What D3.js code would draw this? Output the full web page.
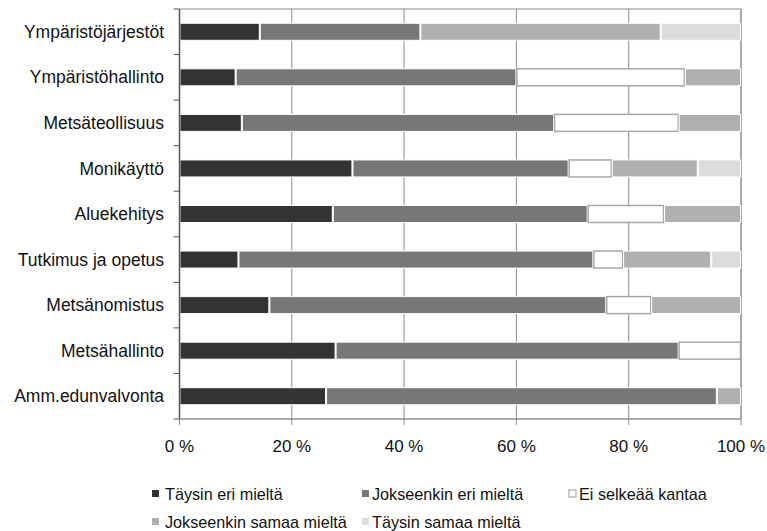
<!DOCTYPE html>
<html><head><meta charset="utf-8">
<script src="https://cdn.jsdelivr.net/npm/d3@7"></script>
<style>body{margin:0;background:#fff;} text{font-family:"Liberation Sans",Arial,sans-serif;}</style>
</head><body>
<svg id="c" width="767" height="531"></svg>
<script>
const categories = ["Ympäristöjärjestöt","Ympäristöhallinto","Metsäteollisuus","Monikäyttö","Aluekehitys","Tutkimus ja opetus","Metsänomistus","Metsähallinto","Amm.edunvalvonta"];
const seriesNames = ["Täysin eri mieltä","Jokseenkin eri mieltä","Ei selkeää kantaa","Jokseenkin samaa mieltä","Täysin samaa mieltä"];
const taysinEri      = [14.3, 10.0, 11.1, 30.8, 27.3, 10.5, 16.0, 27.8, 26.1];
const jokseenkinEri  = [28.6, 50.0, 55.6, 38.5, 45.4, 63.2, 60.0, 61.1, 69.6];
const eiKantaa       = [0.0, 30.0, 22.2, 7.7, 13.6, 5.3, 8.0, 11.1, 0.0];
const jokseenkinSama = [42.8, 10.0, 11.1, 15.3, 13.7, 15.7, 16.0, 0.0, 4.3];
const taysinSama     = [14.3, 0.0, 0.0, 7.7, 0.0, 5.3, 0.0, 0.0, 0.0];
const tickValues = [0, 20, 40, 60, 80, 100];
const tickLabels = ["0 %","20 %","40 %","60 %","80 %","100 %"];

const fills = ["#333333","#777777","#ffffff","#b0b0b0","#dcdcdc"];
const strokes = ["#ffffff","#ffffff","#a8a8a8","#ffffff","#ffffff"];

const seriesVals = [taysinEri, jokseenkinEri, eiKantaa, jokseenkinSama, taysinSama];
const rows = categories.map((c,i)=>{const o={cat:c}; seriesNames.forEach((s,j)=>o[s]=seriesVals[j][i]); return o;});
const stacked = d3.stack().keys(seriesNames)(rows);

const svg = d3.select("#c");
const L=179.5, R=741, T=9, B=419;
const x = d3.scaleLinear().domain([0,100]).range([L,R]);
const y = d3.scaleBand().domain(categories).range([T,B]);
const bh = 17;

// grid
svg.append("g").selectAll("line").data([20,40,60,80]).join("line")
  .attr("x1",d=>x(d)).attr("x2",d=>x(d)).attr("y1",T).attr("y2",B)
  .attr("stroke","#8c8c8c").attr("stroke-width",1);
// top and right border
svg.append("line").attr("x1",L).attr("x2",R).attr("y1",T).attr("y2",T).attr("stroke","#8c8c8c").attr("stroke-width",1.2);
svg.append("line").attr("x1",R).attr("x2",R).attr("y1",T).attr("y2",B).attr("stroke","#8c8c8c").attr("stroke-width",1.5);

// bars
stacked.forEach((s,j)=>{
  svg.append("g").selectAll("rect").data(s.filter(d=>d[1]-d[0]>0)).join("rect")
    .attr("x",d=>x(d[0])+0.5).attr("width",d=>x(d[1])-x(d[0])-1)
    .attr("y",d=>y(d.data.cat)+y.bandwidth()/2-bh/2).attr("height",bh)
    .attr("fill",fills[j]).attr("stroke",strokes[j]).attr("stroke-width",j===2?1.5:1);
});

// left axis
const ya = svg.append("g");
ya.append("line").attr("x1",L).attr("x2",L).attr("y1",T).attr("y2",B).attr("stroke","#555").attr("stroke-width",1.5);
const bounds = categories.map(c=>y(c)).concat([B]);
ya.selectAll("line.t").data(bounds).join("line").attr("class","t")
  .attr("x1",L-6).attr("x2",L).attr("y1",d=>d).attr("y2",d=>d).attr("stroke","#555").attr("stroke-width",1);
ya.selectAll("text").data(categories).join("text")
  .attr("x",164).attr("y",d=>y(d)+y.bandwidth()/2).attr("dy","0.35em")
  .attr("text-anchor","end").attr("font-size",17.5).attr("fill","#111").text(d=>d);

// bottom axis
const xa = svg.append("g");
xa.append("line").attr("x1",L).attr("x2",R).attr("y1",B).attr("y2",B).attr("stroke","#8c8c8c").attr("stroke-width",1.5);
xa.selectAll("line.t").data(tickValues).join("line").attr("class","t")
  .attr("x1",d=>x(d)).attr("x2",d=>x(d)).attr("y1",B).attr("y2",B+6).attr("stroke","#8c8c8c");
xa.selectAll("text").data(tickValues).join("text")
  .attr("x",d=>x(d)).attr("y",452).attr("text-anchor","middle").attr("font-size",17).attr("fill","#111")
  .text((d,i)=>tickLabels[i]);

// legend
const legPos = [[152,494,165],[362,494,372],[569,494,579],[152,522,165],[362,522,372]];
const lg = svg.append("g");
seriesNames.forEach((s,j)=>{
  const [lx,ly,tx]=legPos[j];
  lg.append("rect").attr("x",lx).attr("y",ly-4).attr("width",7).attr("height",7)
    .attr("fill",fills[j]).attr("stroke",j===2?"#999":"none").attr("stroke-width",1);
  lg.append("text").attr("x",tx).attr("y",ly).attr("dy","0.35em").attr("font-size",16.2).attr("fill","#111").text(s);
});
</script>
</body></html>
